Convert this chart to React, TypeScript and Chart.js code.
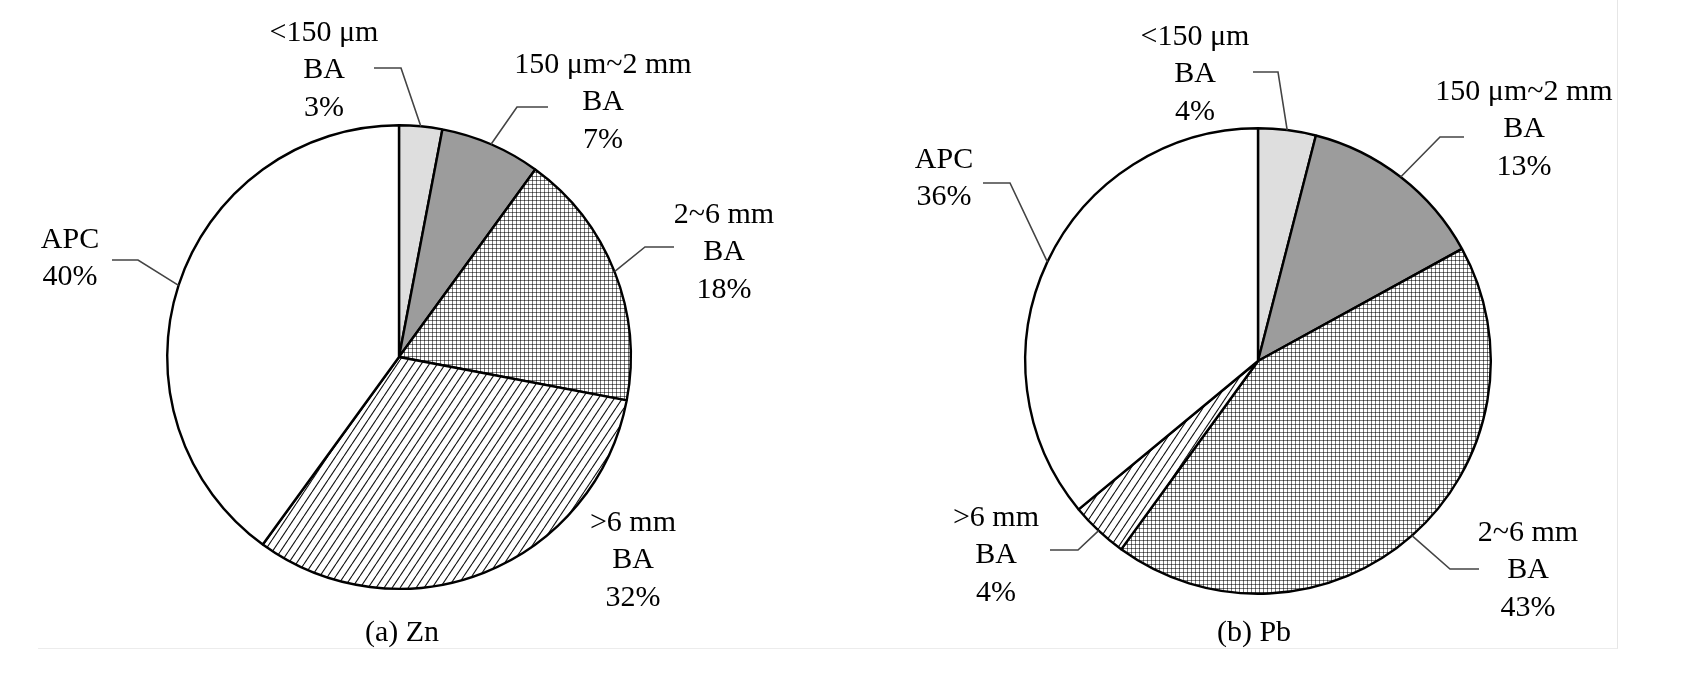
import { useEffect, useRef } from 'react';
import { Chart, registerables } from 'chart.js';

Chart.register(...registerables);

// ---- data ----
const categories = ['<150 μm BA', '150 μm~2 mm BA', '2~6 mm BA', '>6 mm BA', 'APC'];
const labelLines = [['<150 μm', 'BA'], ['150 μm~2 mm', 'BA'], ['2~6 mm', 'BA'], ['>6 mm', 'BA'], ['APC']];
const znShares = [3, 7, 18, 32, 40];
const pbShares = [4, 13, 43, 4, 36];
const captions = ['(a) Zn', '(b) Pb'];

// ---- label placement (relative to pie centre, px) ----
type Place = { text: number[]; elbow?: number[]; end?: number[] };
const ZN_LAYOUT: Place[] = [
  { text: [-75, -324], elbow: [2, -289], end: [-25, -289] },
  { text: [204, -292], elbow: [118, -250], end: [149, -250] },
  { text: [325, -142], elbow: [246, -110], end: [275, -110] },
  { text: [234, 166] },
  { text: [-329, -117], elbow: [-261, -97], end: [-287, -97] },
];
const PB_LAYOUT: Place[] = [
  { text: [-63, -324], elbow: [20, -289], end: [-5, -289] },
  { text: [266, -269], elbow: [182, -224], end: [206, -224] },
  { text: [270, 172], elbow: [192, 208], end: [221, 208] },
  { text: [-262, 157], elbow: [-180, 189], end: [-208, 189] },
  { text: [-314, -201], elbow: [-248, -178], end: [-275, -178] },
];

const FONT = '"Liberation Serif", "Times New Roman", serif';
const LINE_H = 37.5;

function makeDots(ctx: CanvasRenderingContext2D) {
  const c = document.createElement('canvas');
  c.width = 4; c.height = 4;
  const g = c.getContext('2d')!;
  g.fillStyle = '#fff'; g.fillRect(0, 0, 4, 4);
  g.fillStyle = '#7a7a7a';
  g.fillRect(0, 0, 4, 1);
  g.fillRect(0, 0, 1, 4);
  g.fillStyle = '#333';
  g.fillRect(0, 0, 1, 1);
  return ctx.createPattern(c, 'repeat')!;
}

function makeHatch(ctx: CanvasRenderingContext2D) {
  const w = 8, h = 12;
  const c = document.createElement('canvas');
  c.width = w; c.height = h;
  const g = c.getContext('2d')!;
  g.fillStyle = '#fff'; g.fillRect(0, 0, w, h);
  g.strokeStyle = '#111'; g.lineWidth = 1.1;
  for (const o of [-w, 0, w]) {
    g.beginPath(); g.moveTo(o, h); g.lineTo(o + w, 0); g.stroke();
  }
  return ctx.createPattern(c, 'repeat')!;
}

const leaderPlugin = {
  id: 'leaderLabels',
  afterDatasetsDraw(chart: any, _args: any, opts: any) {
    const ctx: CanvasRenderingContext2D = chart.ctx;
    const meta = chart.getDatasetMeta(0);
    const values: number[] = chart.data.datasets[0].data;
    const layout: Place[] = opts.layout;
    ctx.save();
    meta.data.forEach((arc: any, i: number) => {
      const p = arc.getProps(['x', 'y', 'startAngle', 'endAngle', 'outerRadius'], true);
      const mid = (p.startAngle + p.endAngle) / 2;
      const ax = p.x + Math.cos(mid) * p.outerRadius;
      const ay = p.y + Math.sin(mid) * p.outerRadius;
      const L = layout[i];
      if (L.elbow && L.end) {
        ctx.strokeStyle = '#444';
        ctx.lineWidth = 1.6;
        ctx.beginPath();
        ctx.moveTo(ax, ay);
        ctx.lineTo(p.x + L.elbow[0], p.y + L.elbow[1]);
        ctx.lineTo(p.x + L.end[0], p.y + L.end[1]);
        ctx.stroke();
      }
      const lines = [...labelLines[i], values[i] + '%'];
      ctx.fillStyle = '#000';
      ctx.font = `30px ${FONT}`;
      ctx.textAlign = 'center';
      ctx.textBaseline = 'middle';
      lines.forEach((t, k) => {
        ctx.fillText(t, p.x + L.text[0], p.y + L.text[1] + k * LINE_H);
      });
      if (i === 0) {
        ctx.fillText(opts.caption, p.x + opts.captionDx, opts.captionY);
      }
    });
    ctx.restore();
  },
};

function PieChart({ values, layout, caption, padding, captionDx }: any) {
  const ref = useRef<HTMLCanvasElement>(null);
  useEffect(() => {
    const canvas = ref.current!;
    const ctx = canvas.getContext('2d')!;
    const chart = new Chart(ctx, {
      type: 'pie',
      data: {
        labels: categories,
        datasets: [{
          data: values,
          backgroundColor: ['#dedede', '#9c9c9c', makeDots(ctx), makeHatch(ctx), '#ffffff'],
          borderColor: '#000',
          borderWidth: 2.4,
        }],
      },
      options: {
        responsive: false,
        animation: false,
        devicePixelRatio: 1,
        layout: { padding },
        events: [],
        plugins: {
          legend: { display: false },
          tooltip: { enabled: false },
          leaderLabels: { layout, caption, captionY: 633, captionDx },
        } as any,
      },
      plugins: [leaderPlugin],
    });
    return () => chart.destroy();
  }, []);
  return <canvas ref={ref} width={843} height={695} style={{ display: 'block', width: 843, height: 695 }} />;
}

export default function App() {
  return (
    <div style={{ position: 'fixed', left: 0, top: 0, width: 1686, height: 695, background: '#fff', overflow: 'hidden' }}>
      <div style={{ position: 'absolute', left: 38, top: -2, width: 1579, height: 650, borderBottom: '1px solid #ececec', borderRight: '1px solid #e6e6e6' }} />
      <div style={{ position: 'absolute', left: 0, top: 0, display: 'flex' }}>
        <PieChart values={znShares} layout={ZN_LAYOUT} caption={captions[0]} captionDx={3}
          padding={{ left: 166, top: 124, right: 211, bottom: 105 }} />
        <PieChart values={pbShares} layout={PB_LAYOUT} caption={captions[1]} captionDx={-4}
          padding={{ left: 181, top: 127, right: 194, bottom: 100 }} />
      </div>
    </div>
  );
}
